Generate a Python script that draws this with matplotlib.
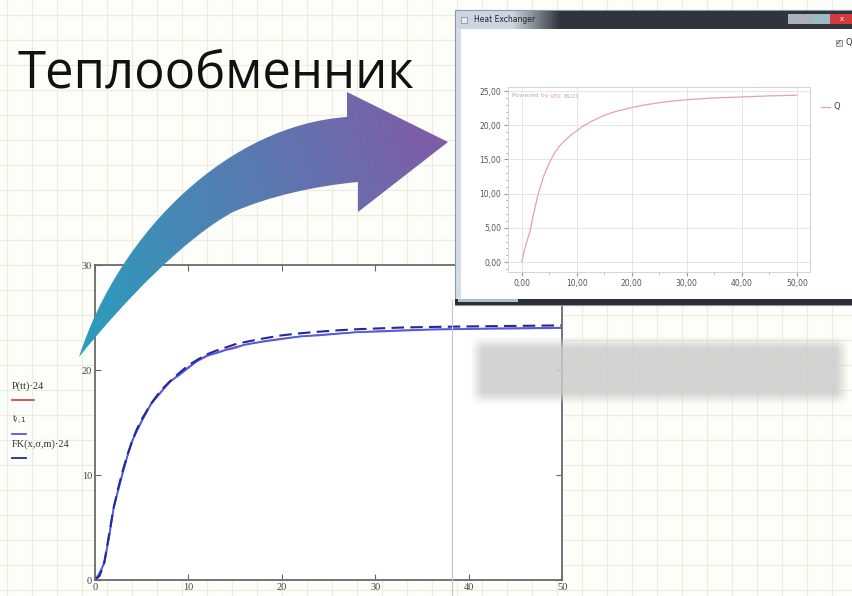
import matplotlib
matplotlib.use("Agg")
import matplotlib.pyplot as plt
import numpy as np
from matplotlib.path import Path
from matplotlib.patches import PathPatch, Rectangle
from matplotlib.ticker import FuncFormatter, MultipleLocator

# ---------- data ----------
# Mathcad plot (bottom): model P(tt)-24, measured t_i,1, fitted FK(x,sigma,m)-24
t_x = [0, 0.5, 1, 1.5, 2, 2.5, 3, 3.5, 4, 4.5, 5, 6, 7, 8, 9, 10, 11, 12, 13, 14,
       15, 16, 18, 20, 22, 24, 26, 28, 30, 33, 36, 40, 45, 50]
p_tt = [0, 0.5, 1.8, 4.2, 6.8, 8.7, 10.4, 11.9, 13.2, 14.3, 15.2, 16.7, 17.9,
        18.8, 19.6, 20.3, 20.85, 21.3, 21.65, 21.95, 22.2, 22.4, 22.75, 23.0,
        23.2, 23.35, 23.48, 23.6, 23.7, 23.8, 23.87, 23.95, 24.0, 24.05]
t_i1 = [0, 0.7, 1.6, 4.0, 6.9, 8.6, 10.3, 11.9, 13.3, 14.2, 15.1, 16.8, 17.8,
        18.9, 19.5, 20.2, 20.9, 21.4, 21.6, 21.9, 22.1, 22.4, 22.7, 22.95,
        23.2, 23.3, 23.45, 23.6, 23.65, 23.75, 23.85, 23.9, 23.95, 24.0]
fk = [0, 0.4, 1.7, 4.3, 6.9, 8.8, 10.5, 12.0, 13.3, 14.4, 15.3, 16.8, 18.0,
      18.9, 19.7, 20.45, 21.0, 21.5, 21.85, 22.15, 22.45, 22.65, 23.0, 23.3,
      23.5, 23.65, 23.78, 23.88, 23.95, 24.05, 24.1, 24.15, 24.2, 24.25]
main_xticks = [0, 10, 20, 30, 40, 50]
main_yticks = [0, 10, 20, 30]
legend_labels = ["P(tt)·24", "t$_{i,1}$", "FK(x,σ,m)·24"]

# Heat Exchanger window plot (top right)
q_x = [0, 0.5, 1, 1.5, 2, 3, 4, 5, 6, 7, 8, 9, 10, 11, 12.5, 14, 15.5, 17, 20,
       22.5, 25, 27.5, 30, 35, 40, 45, 50]
q_y = [0, 1.8, 3.2, 4.5, 6.5, 10.0, 12.6, 14.5, 16.0, 17.1, 17.9, 18.6, 19.2,
       19.8, 20.5, 21.1, 21.6, 22.0, 22.6, 23.0, 23.3, 23.55, 23.75, 24.0,
       24.15, 24.3, 24.4]
q_xticks = [0, 10, 20, 30, 40, 50]
q_yticks = [0, 5, 10, 15, 20, 25]

W, H = 852, 596
fig = plt.figure(figsize=(W / 100, H / 100), dpi=100)
fig.patch.set_facecolor("#fdfdf9")


def px_axes(l, t, r, b, z):
    a = fig.add_axes([l / W, 1 - b / H, (r - l) / W, (b - t) / H])
    a.set_zorder(z)
    return a


def canvas(z):
    a = fig.add_axes([0, 0, 1, 1])
    a.set_xlim(0, W)
    a.set_ylim(H, 0)
    a.axis("off")
    a.patch.set_alpha(0)
    a.set_zorder(z)
    return a


# ---------- slide background ----------
bg = canvas(0)
for gx in range(7, W, 25):
    bg.axvline(gx, color="#ebece2", lw=0.8)
for gy in range(15, H, 25):
    bg.axhline(gy, color="#ebece2", lw=0.8)
bg.text(17, 88, "Теплообменник", fontsize=36.5, family="Open Sans",
        color="#111111", va="baseline", ha="left")

# ---------- Mathcad plot ----------
serif = "Liberation Serif"
ax = px_axes(95, 265, 562, 580, 1)
ax.plot(t_x, p_tt, color="#e04848", lw=1.0)
ax.plot(t_x, t_i1, color="#4a5cf0", lw=1.3)
ax.plot(t_x, fk, color="#1f2a9c", lw=1.5, ls=(0, (6, 3)))
ax.set_xlim(0, 50)
ax.set_ylim(0, 30)
ax.set_xticks(main_xticks)
ax.set_yticks(main_yticks)
ax.tick_params(direction="in", length=4, top=True, right=True, labelsize=7.5,
               labelcolor="#444444", color="#666666", pad=2)
for lab in ax.get_xticklabels() + ax.get_yticklabels():
    lab.set_family(serif)
for s in ax.spines.values():
    s.set_color("#6a6a6a")
    s.set_linewidth(1.3)

# ---------- overlay: arrow, shadow line, blurred bar, legend ----------
ov = canvas(2)
ov.plot([452, 452], [300, H], color="#c4c4c4", lw=0.8)

# blurred grey bar
bx0, bx1, by0, by1 = 470, 848, 336, 404
xs = np.arange(bx0, bx1)
ys = np.arange(by0, by1)
fx = np.clip(np.minimum(xs - bx0, bx1 - xs) / 12.0, 0, 1)
fy = np.clip(np.minimum(ys - by0, by1 - ys) / 12.0, 0, 1)
img = np.zeros((len(ys), len(xs), 4))
img[..., :3] = 0.80
img[..., 3] = np.outer(fy, fx) * 0.85
ov.imshow(img, extent=(bx0, bx1, by1, by0), interpolation="bilinear", zorder=3)

# curved gradient arrow
verts = [(79, 357),
         (120, 230), (230, 125), (347, 117),
         (347, 92), (448, 142), (358, 212), (358, 182),
         (315, 186), (270, 196), (233, 212),
         (185, 238), (125, 300), (79, 357)]
codes = [Path.MOVETO,
         Path.CURVE4, Path.CURVE4, Path.CURVE4,
         Path.LINETO, Path.LINETO, Path.LINETO, Path.LINETO,
         Path.CURVE4, Path.CURVE4, Path.CURVE4,
         Path.CURVE4, Path.CURVE4, Path.CURVE4]
arrow = PathPatch(Path(verts, codes), facecolor="none", edgecolor="none")
ov.add_patch(arrow)
gx, gy = np.meshgrid(np.linspace(70, 450, 200), np.linspace(85, 360, 150))
g = np.clip(((gx - 80) + (360 - gy) * 0.35) / 420.0, 0, 1)
c0 = np.array([0.16, 0.62, 0.74])
c1 = np.array([0.49, 0.37, 0.66])
grad = c0 + (c1 - c0) * g[..., None]
im = ov.imshow(grad, extent=(70, 450, 360, 85), interpolation="bilinear", zorder=4)
im.set_clip_path(arrow)
ov.set_xlim(0, W)
ov.set_ylim(H, 0)

# Mathcad legend
leg_y = [386, 420, 444]
leg_c = ["#e04848", "#4a5cf0", "#1f2a9c"]
leg_w = [22, 14, 14]
for lab, yy, cc, ww in zip(legend_labels, leg_y, leg_c, leg_w):
    ov.text(12, yy, lab, fontsize=7.5, family=serif, color="#333333",
            va="center", ha="left")
    ov.plot([12, 12 + ww], [yy + 14, yy + 14], color=cc, lw=1.3)

# ---------- Heat Exchanger window ----------
win = canvas(3)
win.add_patch(Rectangle((455, 10), 400, 295, facecolor="#d5dde6",
                        edgecolor="#8a99a8", lw=0.8, zorder=1))
tb = np.linspace(0, 1, 400)
tcol = np.clip((tb - 0.14) / 0.12, 0, 1)
light = np.array([0.80, 0.84, 0.88])
dark = np.array([0.19, 0.21, 0.24])
bar = light + (dark - light) * tcol[:, None]
win.imshow(bar[None, :, :], extent=(456, 855, 29, 11), aspect="auto",
           interpolation="bilinear", zorder=2)
win.add_patch(Rectangle((788, 14), 24, 10, facecolor="#a9b2ba", edgecolor="none", zorder=3))
win.add_patch(Rectangle((812, 14), 18, 10, facecolor="#9dbcc2", edgecolor="none", zorder=3))
win.add_patch(Rectangle((830, 14), 25, 10, facecolor="#d43a3a", edgecolor="none", zorder=3))
win.text(842, 19, "x", fontsize=5, color="white", ha="center", va="center", zorder=4)
win.add_patch(Rectangle((461, 17), 6, 6, facecolor="#e8ecf0", edgecolor="#707070",
                        lw=0.4, zorder=3))
win.text(474, 20, "Heat Exchanger", fontsize=5.5, color="#222222", va="center", zorder=4)
win.add_patch(Rectangle((461, 29), 394, 270, facecolor="white", edgecolor="none", zorder=3))
win.add_patch(Rectangle((455, 299), 400, 6, facecolor="#2a3036", edgecolor="none", zorder=3))
win.add_patch(Rectangle((458, 299), 60, 3, facecolor="#a8c0d6", edgecolor="none", zorder=4))
win.add_patch(Rectangle((836, 40), 6, 6, facecolor="#dfe3ea", edgecolor="#777777",
                        lw=0.5, zorder=4))
win.text(839, 43, "✓", fontsize=5, color="#333333", ha="center", va="center", zorder=5)
win.text(846, 43, "Q", fontsize=6, color="#333333", va="center", zorder=5)
win.plot([821, 830], [107, 107], color="#e8a0b0", lw=0.9, zorder=5)
win.text(833, 107, "Q", fontsize=6, color="#444444", va="center", zorder=5)
win.text(512, 96, "Powered by", fontsize=4.5, color="#b0b0b0", va="center", zorder=5)
win.text(550, 96, "VISI", fontsize=4.5, color="#f2a0b4", va="center", zorder=5)
win.text(563, 96, "BLOX", fontsize=4.5, color="#b0b0b0", va="center", zorder=5)
win.set_xlim(0, W)
win.set_ylim(H, 0)

qa = px_axes(508, 87, 810, 272, 4)
qa.patch.set_alpha(0)
qa.plot(q_x, q_y, color="#e8a0b0", lw=0.9)
qa.set_xlim(-2.5, 52.4)
qa.set_ylim(-1.46, 25.6)
qa.set_xticks(q_xticks)
qa.set_yticks(q_yticks)
qa.xaxis.set_minor_locator(MultipleLocator(5))
qa.yaxis.set_minor_locator(MultipleLocator(1))
fmt = FuncFormatter(lambda v, _: f"{v:.2f}".replace(".", ","))
qa.xaxis.set_major_formatter(fmt)
qa.yaxis.set_major_formatter(fmt)
qa.grid(True, color="#e6e6e6", lw=0.7)
qa.tick_params(which="both", direction="out", labelsize=5.5, labelcolor="#555555",
               color="#999999", pad=2)
qa.tick_params(which="major", length=3)
qa.tick_params(which="minor", length=1.5)
for s in qa.spines.values():
    s.set_color("#d4d4d4")
    s.set_linewidth(0.7)

fig.savefig("out.png", dpi=100, facecolor=fig.get_facecolor())
